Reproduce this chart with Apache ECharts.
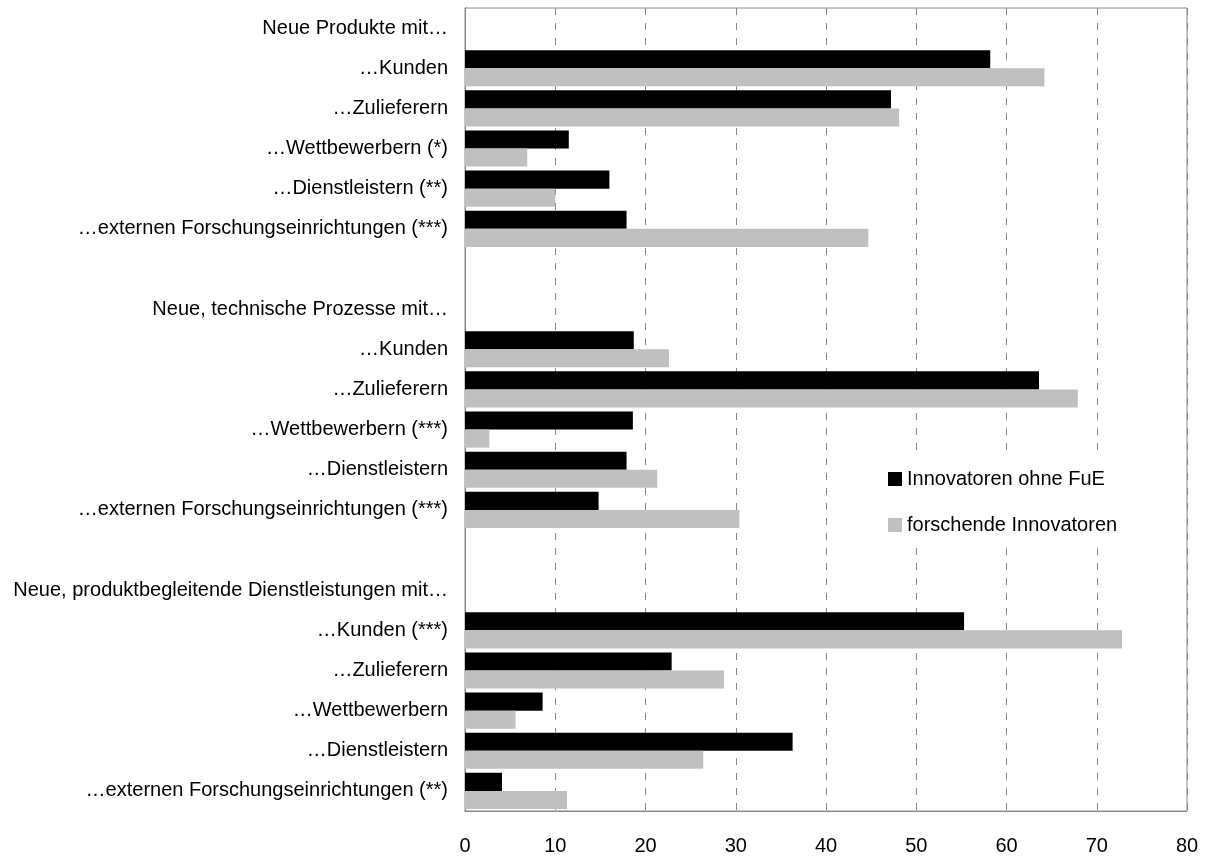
<!DOCTYPE html>
<html>
<head>
<meta charset="utf-8">
<script src="https://cdn.jsdelivr.net/npm/echarts@6/dist/echarts.min.js"></script>
<style>
  html, body { margin: 0; padding: 0; background: #fff; }
  #main { width: 1210px; height: 856px; }
</style>
</head>
<body>
<div id="main"></div>
<script>
// rows from top to bottom, '' = empty spacer row
var categories = [
  'Neue Produkte mit…',
  '…Kunden',
  '…Zulieferern',
  '…Wettbewerbern (*)',
  '…Dienstleistern (**)',
  '…externen Forschungseinrichtungen (***)',
  '',
  'Neue, technische Prozesse mit…',
  '…Kunden',
  '…Zulieferern',
  '…Wettbewerbern (***)',
  '…Dienstleistern',
  '…externen Forschungseinrichtungen (***)',
  ' ',
  'Neue, produktbegleitende Dienstleistungen mit…',
  '…Kunden (***)',
  '…Zulieferern',
  '…Wettbewerbern',
  '…Dienstleistern',
  '…externen Forschungseinrichtungen (**)'
];

var seriesNames = ['Innovatoren ohne FuE', 'forschende Innovatoren'];

var ohneFuE = [
  null, 58.2, 47.2, 11.5, 16.0, 17.9,
  null,
  null, 18.7, 63.6, 18.6, 17.9, 14.8,
  null,
  null, 55.3, 22.9, 8.6, 36.3, 4.1
];

var forschende = [
  null, 64.2, 48.1, 6.9, 10.0, 44.7,
  null,
  null, 22.6, 67.9, 2.7, 21.3, 30.4,
  null,
  null, 72.8, 28.7, 5.6, 26.4, 11.3
];

var xTicks = [0, 10, 20, 30, 40, 50, 60, 70, 80];

var font = 'Liberation Sans, Arial, sans-serif';

var myChart = echarts.init(document.getElementById('main'), null, { renderer: 'canvas' });

var option = {
  backgroundColor: '#fff',
  animation: false,
  textStyle: { fontFamily: font },
  grid: {
    left: 465,
    right: 23,
    top: 8,
    bottom: 44,
    show: true,
    borderColor: '#888',
    borderWidth: 1,
    z: 3
  },
  legend: {
    orient: 'vertical',
    left: 878,
    top: 453,
    padding: [16, 14, 10, 10],
    itemGap: 26,
    itemWidth: 14,
    itemHeight: 14,
    icon: 'rect',
    backgroundColor: '#fff',
    z: 10,
    textStyle: { fontFamily: font, fontSize: 20, color: '#000' },
    data: seriesNames
  },
  xAxis: {
    type: 'value',
    min: xTicks[0],
    max: xTicks[xTicks.length - 1],
    interval: 10,
    axisLine: { show: true, lineStyle: { color: '#888' } },
    axisTick: { show: false },
    axisLabel: {
      fontFamily: font,
      fontSize: 20,
      color: '#000',
      margin: 25
    },
    splitLine: {
      show: true,
      lineStyle: { color: '#888', type: [7, 8], width: 1 }
    }
  },
  yAxis: {
    type: 'category',
    data: categories,
    inverse: true,
    axisLine: { show: true, lineStyle: { color: '#888' } },
    axisTick: { show: false },
    axisLabel: {
      fontFamily: font,
      fontSize: 20,
      color: '#000',
      margin: 17,
      interval: 0
    },
    splitLine: { show: false }
  },
  series: [
    {
      name: seriesNames[0],
      type: 'bar',
      data: ohneFuE,
      barGap: '0%',
      barCategoryGap: '10%',
      itemStyle: { color: '#000' },
      z: 5
    },
    {
      name: seriesNames[1],
      type: 'bar',
      data: forschende,
      barGap: '0%',
      barCategoryGap: '10%',
      itemStyle: { color: '#c0c0c0' },
      z: 5
    }
  ]
};

myChart.setOption(option);
</script>
</body>
</html>
